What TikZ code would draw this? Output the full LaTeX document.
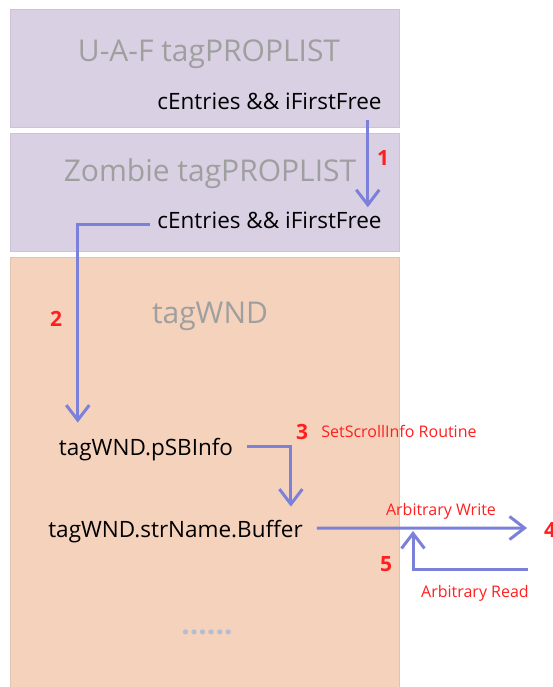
\documentclass[tikz,border=0pt]{standalone}
\usepackage{fontspec}
\setmainfont{Open Sans}
\usetikzlibrary{arrows.meta}

\definecolor{lilac}{HTML}{D9D0E3}
\definecolor{lilacedge}{HTML}{CCC3D8}
\definecolor{peach}{HTML}{F5D2BC}
\definecolor{peachedge}{HTML}{E2C3B0}
\definecolor{flowblue}{HTML}{7B80D8}
\definecolor{markred}{HTML}{FF1F1F}
\definecolor{dotgray}{HTML}{B4BDD2}

\begin{document}
\begin{tikzpicture}[x=1pt,y=-1pt,
	box/.style={draw=lilacedge, fill=lilac, line width=0.8pt},
	wndbox/.style={draw=peachedge, fill=peach, line width=0.8pt},
	title/.style={text=gray!75, anchor=base, inner sep=0pt, font=\fontsize{30}{36}\selectfont},
	field/.style={anchor=base, inner sep=2pt, font=\fontsize{22.5}{27}\selectfont},
	flow/.style={flowblue, line width=3pt, -{Straight Barb[length=15pt,width=23pt]}},
	num/.style={text=markred, anchor=base, inner sep=0pt, font=\bfseries\fontsize{21}{25}\selectfont},
	note/.style={text=markred, anchor=base, inner sep=0pt, font=\fontsize{16}{19}\selectfont}]

	\useasboundingbox (0,0) rectangle (553,687);

	% the three memory blocks
	\draw[box] (10,9) rectangle (399,127);
	\draw[box] (10,133) rectangle (399,251);
	\draw[wndbox] (10,257) rectangle (399,692);

	\node[title] (uafTitle) at (209,62) {U-A-F tagPROPLIST};
	\node[field] (uafField) at (269.5,110) {cEntries \&\& iFirstFree};
	\node[title] (zombieTitle) at (210,182) {Zombie tagPROPLIST};
	\node[field] (zombieField) at (269.5,228) {cEntries \&\& iFirstFree};
	\node[title] (wndTitle) at (210,323) {tagWND};
	\node[field] (wndPtr) at (146,455) {tagWND.pSBInfo};
	\node[field] (wndBuf) at (175.5,537) {tagWND.strName.Buffer};
	\node[text=dotgray, anchor=base, font=\bfseries\fontsize{30}{36}\selectfont] (moreDots) at (207,634) {......};

	\coordinate (wrHead) at (527,528);
	\coordinate (rdTail) at (528,569);
	\coordinate (rdHead) at (413,531);

	% steps
	\draw[flow] ([shift={(-16,8)}]uafField.south east) -- ([shift={(-16,-2)}]zombieField.north east);
	\draw[flow] ([shift={(-5,5)}]zombieField.west) -| ([shift={(21,-13)}]wndPtr.north west);
	\draw[flow] ([shift={(12,-3)}]wndPtr.east) -| ([shift={(-14,-11)}]wndBuf.north east);
	\draw[flow] ([shift={(12,-3)}]wndBuf.east) -- (wrHead);
	\draw[flow] (rdTail) -| (rdHead);

	\node[num] (stepOne) at (383,166) {1};
	\node[num] (stepTwo) at (56,326) {2};
	\node[num] (stepThree) at (302,439) {3};
	\node[num, anchor=base west] (stepFour) at (544,537) {4};
	\node[num] (stepFive) at (386,571) {5};

	\node[note] (routineNote) at (399,437) {SetScrollInfo Routine};
	\node[note] (writeNote) at (441,515) {Arbitrary Write};
	\node[note] (readNote) at (475,597) {Arbitrary Read};

\end{tikzpicture}
\end{document}
